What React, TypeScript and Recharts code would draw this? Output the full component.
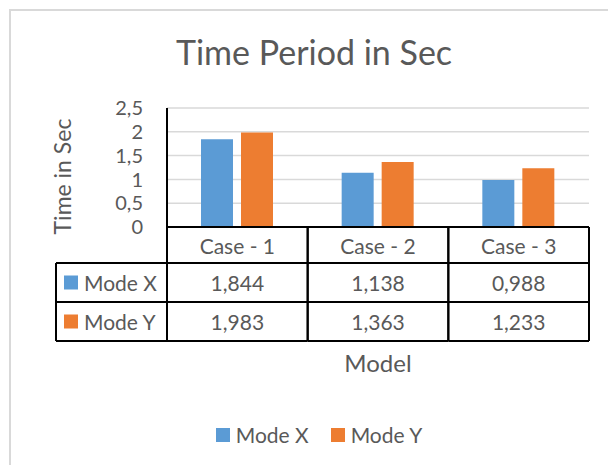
import React from 'react';
import { BarChart, Bar, XAxis, YAxis, CartesianGrid, Legend } from 'recharts';

const categories = ['Case - 1', 'Case - 2', 'Case - 3'];
const modeX = [1.844, 1.138, 0.988];
const modeY = [1.983, 1.363, 1.233];
const yTicks = [0, 0.5, 1, 1.5, 2, 2.5];
const seriesNames = ['Mode X', 'Mode Y'];
const seriesColors = ['#5b9bd5', '#ed7d31'];
const chartTitle = 'Time Period in Sec';
const yTitle = 'Time in Sec';
const xTitle = 'Model';

const data = categories.map((name, i) => ({ name, modeX: modeX[i], modeY: modeY[i] }));
const seriesValues = [modeX, modeY];

const CHART_W = 608;
const CHART_H = 465;
const MARGIN = { top: 108, right: 19, left: 0, bottom: 18 };
const Y_AXIS_W = 167;
const X_AXIS_H = 195;
const CELL_W = (CHART_W - MARGIN.left - MARGIN.right - Y_AXIS_W) / categories.length;
const HEADER_H = 36;
const ROW_H = 39;
const ROW_HEAD_LEFT = 56;
const TEXT = '#595959';
const FONT = 'Lato, "Open Sans", sans-serif';

const comma = (v: number, digits?: number) =>
  (digits === undefined ? String(v) : v.toFixed(digits)).replace('.', ',');

function TableTick(props: any) {
  const { x, y, payload, index } = props;
  const left = x - CELL_W / 2;
  const right = x + CELL_W / 2;
  const r1 = y + HEADER_H;
  const r2 = r1 + ROW_H;
  const r3 = r2 + ROW_H;
  const line = { stroke: '#000', strokeWidth: 2 };
  return (
    <g>
      <text x={x} y={y + HEADER_H / 2} textAnchor="middle" dominantBaseline="central" fontSize={21} fill={TEXT}>
        {payload.value}
      </text>
      {seriesValues.map((vals, si) => (
        <text
          key={si}
          x={x}
          y={r1 + ROW_H * si + ROW_H / 2}
          textAnchor="middle"
          dominantBaseline="central"
          fontSize={21}
          fill={TEXT}
        >
          {comma(vals[index], 3)}
        </text>
      ))}
      <line x1={right} y1={y} x2={right} y2={r3} {...line} />
      <line x1={left} y1={y} x2={left} y2={r3} {...line} />
      <line x1={left} y1={r1} x2={right} y2={r1} {...line} />
      <line x1={left} y1={r2} x2={right} y2={r2} {...line} />
      <line x1={left} y1={r3} x2={right} y2={r3} {...line} />
      {index === 0 && (
        <g>
          <line x1={ROW_HEAD_LEFT} y1={r1} x2={left} y2={r1} {...line} />
          <line x1={ROW_HEAD_LEFT} y1={r2} x2={left} y2={r2} {...line} />
          <line x1={ROW_HEAD_LEFT} y1={r3} x2={left} y2={r3} {...line} />
          <line x1={ROW_HEAD_LEFT} y1={r1} x2={ROW_HEAD_LEFT} y2={r3} {...line} />
          {seriesNames.map((n, si) => (
            <g key={n}>
              <rect x={ROW_HEAD_LEFT + 8} y={r1 + ROW_H * si + ROW_H / 2 - 7} width={14} height={14} fill={seriesColors[si]} />
              <text
                x={ROW_HEAD_LEFT + 28}
                y={r1 + ROW_H * si + ROW_H / 2}
                dominantBaseline="central"
                fontSize={21}
                fill={TEXT}
              >
                {n}
              </text>
            </g>
          ))}
        </g>
      )}
    </g>
  );
}

function LegendContent() {
  return (
    <div
      style={{
        display: 'flex',
        justifyContent: 'center',
        alignItems: 'center',
        height: 25,
        fontSize: 21,
        color: TEXT,
        fontFamily: FONT,
      }}
    >
      {seriesNames.map((n, i) => (
        <div key={n} style={{ display: 'flex', alignItems: 'center', marginRight: i === 0 ? 22 : 0 }}>
          <span style={{ display: 'inline-block', width: 14, height: 14, background: seriesColors[i], marginRight: 6 }} />
          <span>{n}</span>
        </div>
      ))}
    </div>
  );
}

export default function App() {
  return (
    <div
      style={{
        position: 'absolute',
        left: 0,
        top: 0,
        width: CHART_W,
        height: CHART_H,
        overflow: 'hidden',
        background: '#fff',
        fontFamily: FONT,
      }}
    >
      <div
        style={{
          position: 'absolute',
          left: 9,
          top: 9,
          width: 640,
          height: 500,
          border: '2px solid #d9d9d9',
        }}
      />
      <BarChart
        width={CHART_W}
        height={CHART_H}
        data={data}
        margin={MARGIN}
        barSize={32}
        barGap={8}
        style={{ position: 'absolute', left: 0, top: 0 }}
      >
        <text x={314} y={65} textAnchor="middle" fontSize={34} fill={TEXT}>
          {chartTitle}
        </text>
        <CartesianGrid vertical={false} stroke="#d9d9d9" strokeWidth={1.5} />
        <XAxis
          dataKey="name"
          height={X_AXIS_H}
          interval={0}
          tickLine={false}
          tickSize={0}
          tickMargin={0}
          axisLine={{ stroke: '#000', strokeWidth: 2 }}
          tick={<TableTick />}
          label={(p: any) => {
            const vb = p.viewBox;
            return (
              <text x={vb.x + vb.width / 2} y={vb.y + 145} textAnchor="middle" fontSize={24} fill={TEXT}>
                {xTitle}
              </text>
            );
          }}
        />
        <YAxis
          width={Y_AXIS_W}
          domain={[0, 2.5]}
          ticks={yTicks}
          interval={0}
          tickLine={false}
          tickSize={0}
          tickMargin={24}
          axisLine={{ stroke: '#000', strokeWidth: 2 }}
          tick={{ fill: TEXT, fontSize: 20 }}
          tickFormatter={(v: number) => comma(v)}
          label={(p: any) => {
            const vb = p.viewBox;
            const cx = vb.x + 62;
            const cy = vb.y + vb.height / 2 + 9;
            return (
              <text
                x={cx}
                y={cy}
                textAnchor="middle"
                dominantBaseline="central"
                fontSize={23}
                fill={TEXT}
                transform={`rotate(-90 ${cx} ${cy})`}
              >
                {yTitle}
              </text>
            );
          }}
        />
        <Legend verticalAlign="bottom" align="center" wrapperStyle={{ left: 30, width: 578 }} content={<LegendContent />} />
        <Bar dataKey="modeX" name={seriesNames[0]} fill={seriesColors[0]} isAnimationActive={false} />
        <Bar dataKey="modeY" name={seriesNames[1]} fill={seriesColors[1]} isAnimationActive={false} />
      </BarChart>
    </div>
  );
}
